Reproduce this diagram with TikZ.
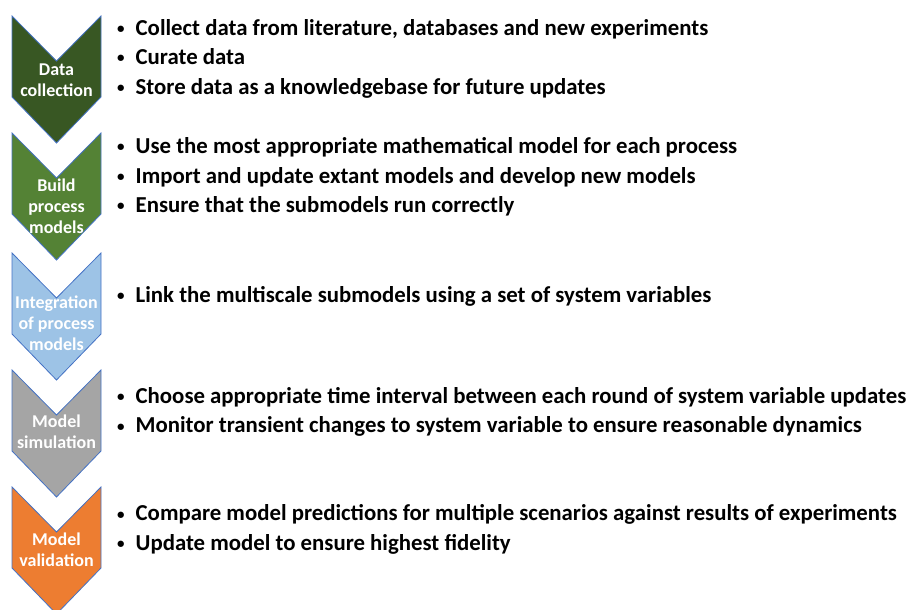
\documentclass[tikz,border=0pt]{standalone}
\usepackage{fontspec}
\setmainfont{Carlito}
\usetikzlibrary{positioning}

\definecolor{cDarkGreen}{HTML}{385723}
\definecolor{cGreen}{HTML}{548235}
\definecolor{cLightBlue}{HTML}{9DC3E6}
\definecolor{cGrey}{HTML}{A5A5A5}
\definecolor{cOrange}{HTML}{ED7D31}
\definecolor{cEdge}{HTML}{4472C4}

\newcommand{\vBullet}{\raisebox{1.8pt}{\fontsize{15}{15}\selectfont•}\hspace{11pt}}

\begin{document}
\begin{tikzpicture}[x=1pt,y=-1pt,
    chevron/.style={draw=cEdge, line width=0.8pt, line join=miter},
    stepname/.style={text=white, font=\bfseries\fontsize{18}{21}\selectfont, align=center, inner sep=0pt},
    bullets/.style={anchor=west, font=\bfseries\fontsize{22.8}{29.5}\selectfont, align=left, inner sep=0pt}]
    % variables
    \pgfmathsetmacro{\vLeft}{12}
    \pgfmathsetmacro{\vRight}{101}
    \pgfmathsetmacro{\vMid}{56.5}
    \pgfmathsetmacro{\vNotch}{45}
    \pgfmathsetmacro{\vSide}{81}
    \pgfmathsetmacro{\vTip}{127}

    \useasboundingbox (0,0) rectangle (907,610);
    \clip (0,0) rectangle (907,610);

    % chevrons
    \foreach \vTop/\vFill/\vLabelY/\vName/\vText in {
        16/cDarkGreen/80/data/{Data\\collection},
        133/cGreen/206/build/{Build\\process\\models},
        253/cLightBlue/323/integ/{Integration\\of process\\models},
        370/cGrey/432/simul/{Model\\simulation},
        487/cOrange/550/valid/{Model\\validation}}{
        \draw[chevron, fill=\vFill] (\vLeft,\vTop) -- (\vMid,\vTop+\vNotch) -- (\vRight,\vTop)
            -- (\vRight,\vTop+\vSide) -- (\vMid,\vTop+\vTip) -- (\vLeft,\vTop+\vSide) -- cycle;
        \node[stepname] (\vName) at (\vMid,\vLabelY) {\vText};
    }

    % bullet lists
    \node[bullets] (dataList) at (117,58.5) {%
        \vBullet Collect data from literature, databases and new experiments\\
        \vBullet Curate data\\
        \vBullet Store data as a knowledgebase for future updates};
    \node[bullets] (buildList) at (117,177) {%
        \vBullet Use the most appropriate mathematical model for each process\\
        \vBullet Import and update extant models and develop new models\\
        \vBullet Ensure that the submodels run correctly};
    \node[bullets] (integList) at (117,296) {%
        \vBullet Link the multiscale submodels using a set of system variables};
    \node[bullets] (simulList) at (117,412) {%
        \vBullet Choose appropriate time interval between each round of system variable updates\\
        \vBullet Monitor transient changes to system variable to ensure reasonable dynamics};
    \node[bullets] (validList) at (117,529.5) {%
        \vBullet Compare model predictions for multiple scenarios against results of experiments\\
        \vBullet Update model to ensure highest fidelity};
\end{tikzpicture}
\end{document}
